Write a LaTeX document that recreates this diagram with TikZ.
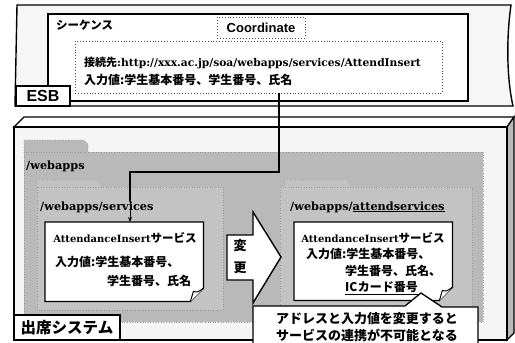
\documentclass[tikz,border=0pt]{standalone}
\usepackage{fontspec}
\setmainfont{DejaVu Serif}
\newfontfamily\jp{Noto Sans CJK JP}
\newfontfamily\sansb{Liberation Sans}
\usetikzlibrary{arrows.meta}
\begin{document}
\begin{tikzpicture}[x=1pt,y=-1pt,line join=miter]
\tikzset{
  frame/.style={draw, anchor=north west, inner sep=0pt, outer sep=0pt},
  lbl/.style={inner sep=0pt, anchor=west, font=\bfseries\fontsize{10.7}{12}\selectfont},
  jpt/.style={inner sep=0pt, anchor=west, font=\jp\bfseries\fontsize{12}{14}\selectfont},
  fold/.style={fill=gray!55, draw=gray!80, dotted, line width=0.6pt},
  flabel/.style={inner sep=0pt, anchor=west, font=\bfseries\fontsize{11.3}{13}\selectfont},
}
\useasboundingbox (0,0) rectangle (515,343);
\fill[white] (0,0) rectangle (515,343);
% ---------------- ESB ----------------
\draw[line width=1.4pt, fill=gray!7] (17,5) -- (511,5) .. controls (506,40) and (507,80) .. (513,106) -- (15,106) -- cycle;
\node[frame, line width=1.2pt, fill=white, minimum width=420pt, minimum height=87pt] (seq) at (48,14) {};
\node[jpt, font=\jp\bfseries\fontsize{11.5}{13}\selectfont] (seqlbl) at (56,25) {シーケンス};
\node[frame, dotted, line width=0.9pt, draw=black!70, fill=white, minimum width=367pt, minimum height=52pt] (cbox) at (75,41) {};
\node[frame, dotted, line width=0.9pt, draw=black!70, fill=white, minimum width=88pt, minimum height=21pt,
      font=\sansb\bfseries\fontsize{13}{15}\selectfont] (clbl) at (217,17) {Coordinate};
\node[lbl] (url) at (84,63) {{\jp\fontsize{11}{12}\selectfont 接続先}:http://xxx.ac.jp/soa/webapps/services/AttendInsert};
\node[jpt] (inp) at (84,80) {入力値:学生基本番号、学生番号、氏名};
\node[frame, line width=1.3pt, fill=white, minimum width=54pt, minimum height=20pt,
      font=\sansb\bfseries\fontsize{16}{18}\selectfont] (esb) at (16,86) {ESB};
% ---------------- 出席システム ----------------
\draw[line width=1.3pt, fill=white] (14,127) -- (24,117) -- (514,117) -- (507,127) -- cycle;
\draw[line width=1.3pt, fill=gray!55] (507,127) -- (514,117) -- (514,333) -- (507,340) -- cycle;
\draw[line width=1.3pt, fill=gray!8] (14,127) rectangle (507,340);
% /webapps folder
\path[fold] (24,153) -- (24,140) -- (84,140) -- (88,144) -- (88,153);
\path[fold] (24,152) rectangle (483,322);
\node[flabel] (wa) at (26,166) {/webapps};
% /webapps/services
\path[fold, fill=gray!47] (37,188) -- (37,180) -- (97,180) -- (101,184) -- (101,188);
\path[fold, fill=gray!47] (37,187) rectangle (223,310);
\node[flabel] (ws) at (40,207) {/webapps/services};
% /webapps/attendservices
\path[fold, fill=gray!47] (285,188) -- (285,180) -- (346,180) -- (350,184) -- (350,188);
\path[fold, fill=gray!47] (280,187) rectangle (472,310);
\node[flabel] (wat) at (290,207) {/webapps/\underline{attendservices}};
% left service box
\node[anchor=north west, inner sep=0pt, minimum width=158pt, minimum height=79pt] (sL) at (45,222) {};
\draw[line width=1.2pt, fill=white] (sL.north west) -- (sL.north east) -- ([yshift=13pt]sL.south east)
   -- ([xshift=-13pt]sL.south east) -- (sL.south west) -- cycle;
\draw[line width=1pt, fill=white] ([yshift=13pt]sL.south east) .. controls ([xshift=-6pt,yshift=9pt]sL.south east) .. ([xshift=-10pt,yshift=10pt]sL.south east)
   -- ([xshift=-13pt]sL.south east);
\node[inner sep=0pt, font=\fontsize{10}{12}\selectfont\bfseries] (sLt) at (125,238) {AttendanceInsert{\jp\fontsize{11.5}{12}\selectfont サービス}};
\node[jpt] (sLi1) at (55,262) {入力値:学生基本番号、};
\node[jpt] (sLi2) at (107,281) {学生番号、氏名};
% right service box
\node[anchor=north west, inner sep=0pt, minimum width=158pt, minimum height=78pt] (sR) at (294,222) {};
\draw[line width=1.2pt, fill=white] (sR.north west) -- (sR.north east) -- ([yshift=13pt]sR.south east)
   -- ([xshift=-13pt]sR.south east) -- (sR.south west) -- cycle;
\draw[line width=1pt, fill=white] ([yshift=13pt]sR.south east) .. controls ([xshift=-6pt,yshift=9pt]sR.south east) .. ([xshift=-10pt,yshift=10pt]sR.south east)
   -- ([xshift=-13pt]sR.south east);
\node[inner sep=0pt, font=\fontsize{10}{12}\selectfont\bfseries] (sRt) at (373,238) {AttendanceInsert{\jp\fontsize{11.5}{12}\selectfont サービス}};
\node[jpt] (sRi1) at (306,254) {入力値:学生基本番号、};
\node[jpt] (sRi2) at (345,271) {学生番号、氏名、};
\node[jpt] (sRi3) at (345,288) {\underline{IC\hspace{0.5pt}カード番号}};
% big arrow
\draw[line width=1.4pt, fill=white] (227,235) -- (253,235) -- (253,212) -- (281,257) -- (253,303) -- (253,280) -- (227,280) -- cycle;
\node[inner sep=0pt, font=\jp\bfseries\fontsize{13}{14}\selectfont] (hen) at (240,246) {変};
\node[inner sep=0pt, font=\jp\bfseries\fontsize{13}{14}\selectfont] (kou) at (240,268) {更};
% callout
\draw[line width=1.3pt, fill=white] (253,345) -- (253,306) -- (405,306) -- (421,293) -- (442,307) -- (478,307) -- (478,345);
\node[inner sep=0pt, align=center, font=\jp\bfseries\fontsize{13}{17}\selectfont] (call) at (367,327)
   {アドレスと入力値を変更すると\\サービスの連携が不可能となる};
% 出席システム label
\node[frame, line width=1.3pt, fill=white, minimum width=106pt, minimum height=25pt,
      font=\jp\bfseries\fontsize{15.5}{17}\selectfont] (sys) at (14,315) {出席システム};
% connector
\coordinate (b1) at (279,172);
\coordinate (b2) at (130,172);
\draw[line width=1.8pt] ([xshift=20.5pt]cbox.south) -- (b1) -- (b2) -- ([yshift=-1pt]b2 |- ws.north);
\draw[line width=0.8pt, -{Stealth[length=5pt,width=4pt]}] ([yshift=-1pt]b2 |- ws.north) -- (b2 |- sL.north);
\end{tikzpicture}
\end{document}
